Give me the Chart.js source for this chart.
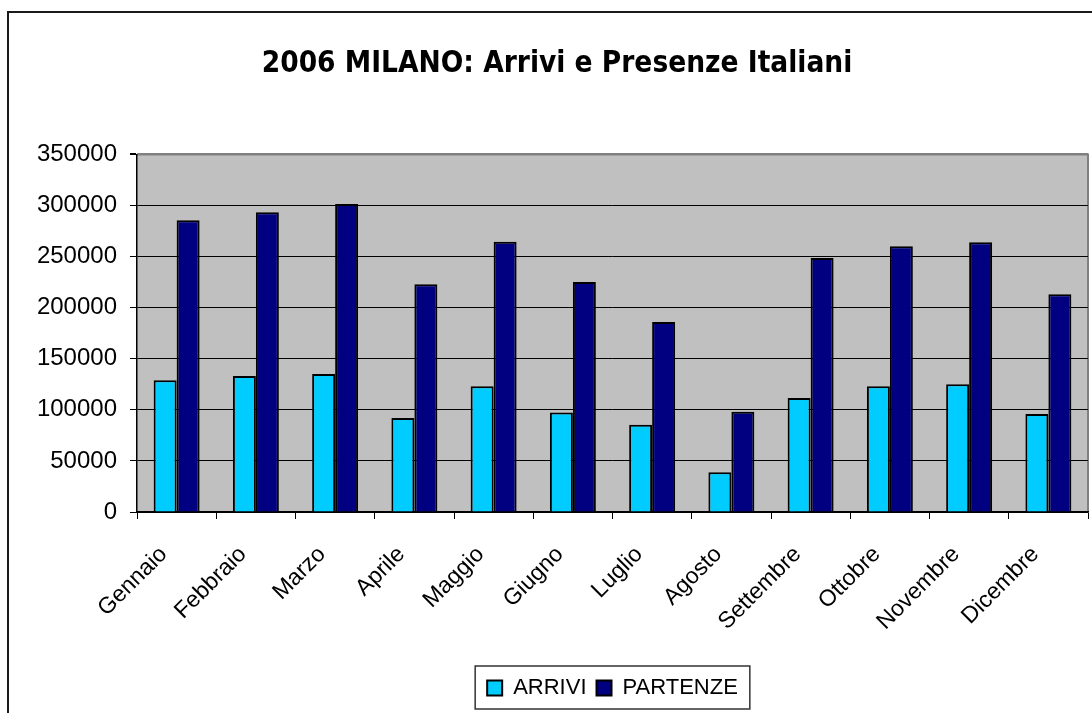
<!DOCTYPE html>
<html>
<head>
<meta charset="utf-8">
<script src="https://cdn.jsdelivr.net/npm/chart.js@4/dist/chart.umd.min.js"></script>
<style>
    html, body { margin: 0; padding: 0; background: #fff; overflow: hidden; width: 1092px; height: 713px; }
    #frame { position: absolute; left: 7px; top: 11px; width: 1200px; height: 800px; border: 2px solid #1a1a1a; box-sizing: border-box; }
    #chart { position: absolute; left: 0; top: 0; }
</style>
</head>
<body>
<div id="frame"></div>
<canvas id="chart" width="1106" height="713"></canvas>
<script>
// --- Data ---
const months = ['Gennaio', 'Febbraio', 'Marzo', 'Aprile', 'Maggio', 'Giugno', 'Luglio', 'Agosto', 'Settembre', 'Ottobre', 'Novembre', 'Dicembre'];
const arrivi = [129000, 133000, 135000, 92000, 123000, 97500, 85500, 39000, 111500, 123000, 125000, 96000];
const partenze = [285500, 293500, 301500, 223000, 264500, 225000, 186000, 98000, 248500, 260000, 264000, 213000];
const yTicks = [0, 50000, 100000, 150000, 200000, 250000, 300000, 350000];

const titleText = '2006 MILANO: Arrivi e Presenze Italiani';

// grey plot area like the old spreadsheet charts
const plotBg = {
    id: 'plotBg',
    beforeDraw(chart) {
        const { ctx, chartArea: a } = chart;
        ctx.save();
        ctx.fillStyle = '#c0c0c0';
        ctx.fillRect(a.left, a.top, a.right - a.left, a.bottom - a.top);
        ctx.strokeStyle = '#808080';
        ctx.lineWidth = 2;
        ctx.beginPath();
        ctx.moveTo(a.left, a.top);
        ctx.lineTo(a.right, a.top);
        ctx.lineTo(a.right, a.bottom);
        ctx.stroke();
        ctx.restore();
    }
};

// legend centred under the plot, with a frame round it
const legendBox = {
    id: 'legendBox',
    afterLayout(chart) {
        const lg = chart.legend;
        const a = chart.chartArea;
        const shift = (a.left + a.right) / 2 - (lg.left + lg.right) / 2;
        lg.left += shift;
        lg.right += shift;
    },
    afterDraw(chart) {
        const lg = chart.legend;
        const { ctx } = chart;
        const pad = lg.options.labels.padding;
        const lw = lg.lineWidths[0];
        const x0 = (lg.left + pad + lg.right - lw) / 2;
        ctx.save();
        ctx.strokeStyle = '#333';
        ctx.lineWidth = 1.5;
        ctx.strokeRect(x0 - 12, lg.top - 1, lw - pad + 24, lg.height + 1);
        ctx.restore();
    }
};

const ctx = document.getElementById('chart').getContext('2d');
new Chart(ctx, {
    type: 'bar',
    data: {
        labels: months,
        datasets: [
            {
                label: 'ARRIVI',
                data: arrivi,
                backgroundColor: '#00ccff',
                borderColor: '#000',
                borderWidth: 2
            },
            {
                label: 'PARTENZE',
                data: partenze,
                backgroundColor: '#000080',
                borderColor: '#000',
                borderWidth: 2
            }
        ]
    },
    options: {
        responsive: false,
        animation: false,
        devicePixelRatio: 1,
        layout: { padding: { left: 26, right: 18, top: 0, bottom: 4 } },
        datasets: { bar: { categoryPercentage: 0.58, barPercentage: 1 } },
        plugins: {
            title: {
                display: true,
                text: titleText,
                color: '#000',
                font: { family: 'DejaVu Sans Condensed', size: 29.5, weight: 'bold', lineHeight: 1.2 },
                padding: { top: 47, bottom: 72 }
            },
            legend: {
                position: 'bottom',
                labels: {
                    color: '#000',
                    boxWidth: 15,
                    boxHeight: 15,
                    padding: 10,
                    font: { family: 'Liberation Sans', size: 22 }
                }
            },
            tooltip: { enabled: false }
        },
        scales: {
            x: {
                grid: {
                    offset: true,
                    drawOnChartArea: false,
                    drawTicks: true,
                    tickLength: 7,
                    color: '#000'
                },
                border: { color: '#000', width: 1.5 },
                ticks: {
                    color: '#000',
                    maxRotation: 45,
                    minRotation: 45,
                    padding: 22,
                    labelOffset: -13,
                    font: { family: 'Liberation Sans', size: 23 }
                },
                afterFit(scale) { scale.height = 155; }
            },
            y: {
                min: 0,
                max: 350000,
                afterBuildTicks(scale) { scale.ticks = yTicks.map(v => ({ value: v })); },
                grid: {
                    color: c => (c.tick && c.tick.value === 350000 ? '#808080' : '#000'),
                    tickColor: '#000',
                    lineWidth: c => (c.tick && c.tick.value === 350000 ? 2 : 1),
                    tickLength: 7
                },
                border: { color: '#000', width: 1.5 },
                ticks: {
                    color: '#000',
                    padding: 13,
                    font: { family: 'Liberation Sans', size: 24 },
                    callback: v => String(v)
                },
                afterFit(scale) { scale.width = 111; }
            }
        }
    },
    plugins: [plotBg, legendBox]
});
</script>
</body>
</html>
